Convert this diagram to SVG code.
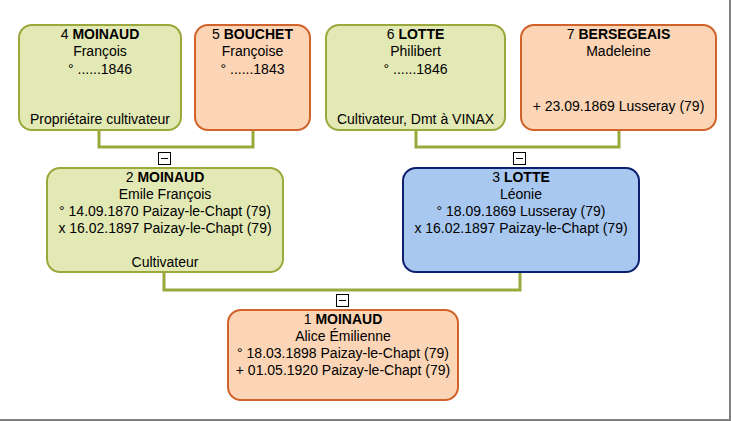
<svg xmlns="http://www.w3.org/2000/svg" width="731" height="421" viewBox="0 0 731 421">
<style>
text{font-family:"Liberation Sans",Arial,sans-serif;font-size:14px;fill:#000;text-anchor:middle}
.b{font-weight:bold}
.g{fill:#e3e9b5;stroke:#9aa83c;stroke-width:2}
.o{fill:#fbd5b5;stroke:#d0622a;stroke-width:2}
.bl{fill:#a8c8f0;stroke:#0d1f70;stroke-width:2}
.c{fill:none;stroke:#9aa83c;stroke-width:3}
.t{fill:#fff;stroke:#000;stroke-width:1}
.m{stroke:#000;stroke-width:1}
</style>
<rect x="0" y="0" width="731" height="421" fill="#fff"/>
<rect x="729" y="0" width="2" height="421" fill="#808080"/>
<rect x="0" y="419" width="731" height="2" fill="#808080"/>
<g id="connectors">
<polyline class="c" points="99,130 99,147 253,147 253,130"/>
<polyline class="c" points="416,130 416,147 619,147 619,130"/>
<polyline class="c" points="164,272 164,290 520,290 520,272"/>
<g id="toggle-2"><rect class="t" x="158.5" y="152.5" width="12" height="12"/><line class="m" x1="161" y1="158.5" x2="168" y2="158.5"/></g>
<g id="toggle-3"><rect class="t" x="513.5" y="152.5" width="12" height="12"/><line class="m" x1="516" y1="158.5" x2="523" y2="158.5"/></g>
<g id="toggle-1"><rect class="t" x="336.5" y="294.5" width="12" height="12"/><line class="m" x1="339" y1="300.5" x2="346" y2="300.5"/></g>
</g>
<g id="node4">
<rect class="g" x="19" y="25" width="162" height="105" rx="13"/>
<text x="100" y="39">4 <tspan class="b">MOINAUD</tspan></text>
<text x="100" y="56.3">François</text>
<text x="100" y="73.6">° ......1846</text>
<text x="100" y="124">Propriétaire cultivateur</text>
</g>
<g id="node5">
<rect class="o" x="195" y="25" width="115" height="105" rx="13"/>
<text x="252.5" y="39">5 <tspan class="b">BOUCHET</tspan></text>
<text x="252.5" y="56.3">Françoise</text>
<text x="252.5" y="73.6">° ......1843</text>
</g>
<g id="node6">
<rect class="g" x="326" y="25" width="179" height="105" rx="13"/>
<text x="415.5" y="39">6 <tspan class="b">LOTTE</tspan></text>
<text x="415.5" y="56.3">Philibert</text>
<text x="415.5" y="73.6">° ......1846</text>
<text x="415.5" y="124">Cultivateur, Dmt à VINAX</text>
</g>
<g id="node7">
<rect class="o" x="521" y="25" width="195" height="105" rx="13"/>
<text x="618.5" y="39">7 <tspan class="b">BERSEGEAIS</tspan></text>
<text x="618.5" y="56.3">Madeleine</text>
<text x="618.5" y="110.5">+ 23.09.1869 Lusseray (79)</text>
</g>
<g id="node2">
<rect class="g" x="47" y="168" width="236" height="104" rx="13"/>
<text x="165" y="181.5">2 <tspan class="b">MOINAUD</tspan></text>
<text x="165" y="198.8">Emile François</text>
<text x="165" y="216.1">° 14.09.1870 Paizay-le-Chapt (79)</text>
<text x="165" y="233.4">x 16.02.1897 Paizay-le-Chapt (79)</text>
<text x="165" y="266.5">Cultivateur</text>
</g>
<g id="node3">
<rect class="bl" x="403" y="168" width="236" height="104" rx="13"/>
<text x="521" y="181.5">3 <tspan class="b">LOTTE</tspan></text>
<text x="521" y="198.8">Léonie</text>
<text x="521" y="216.1">° 18.09.1869 Lusseray (79)</text>
<text x="521" y="233.4">x 16.02.1897 Paizay-le-Chapt (79)</text>
</g>
<g id="node1">
<rect class="o" x="228" y="310" width="230" height="90" rx="13"/>
<text x="343" y="323.5">1 <tspan class="b">MOINAUD</tspan></text>
<text x="343" y="340.5">Alice Émilienne</text>
<text x="343" y="357.8">° 18.03.1898 Paizay-le-Chapt (79)</text>
<text x="343" y="375">+ 01.05.1920 Paizay-le-Chapt (79)</text>
</g>
</svg>
